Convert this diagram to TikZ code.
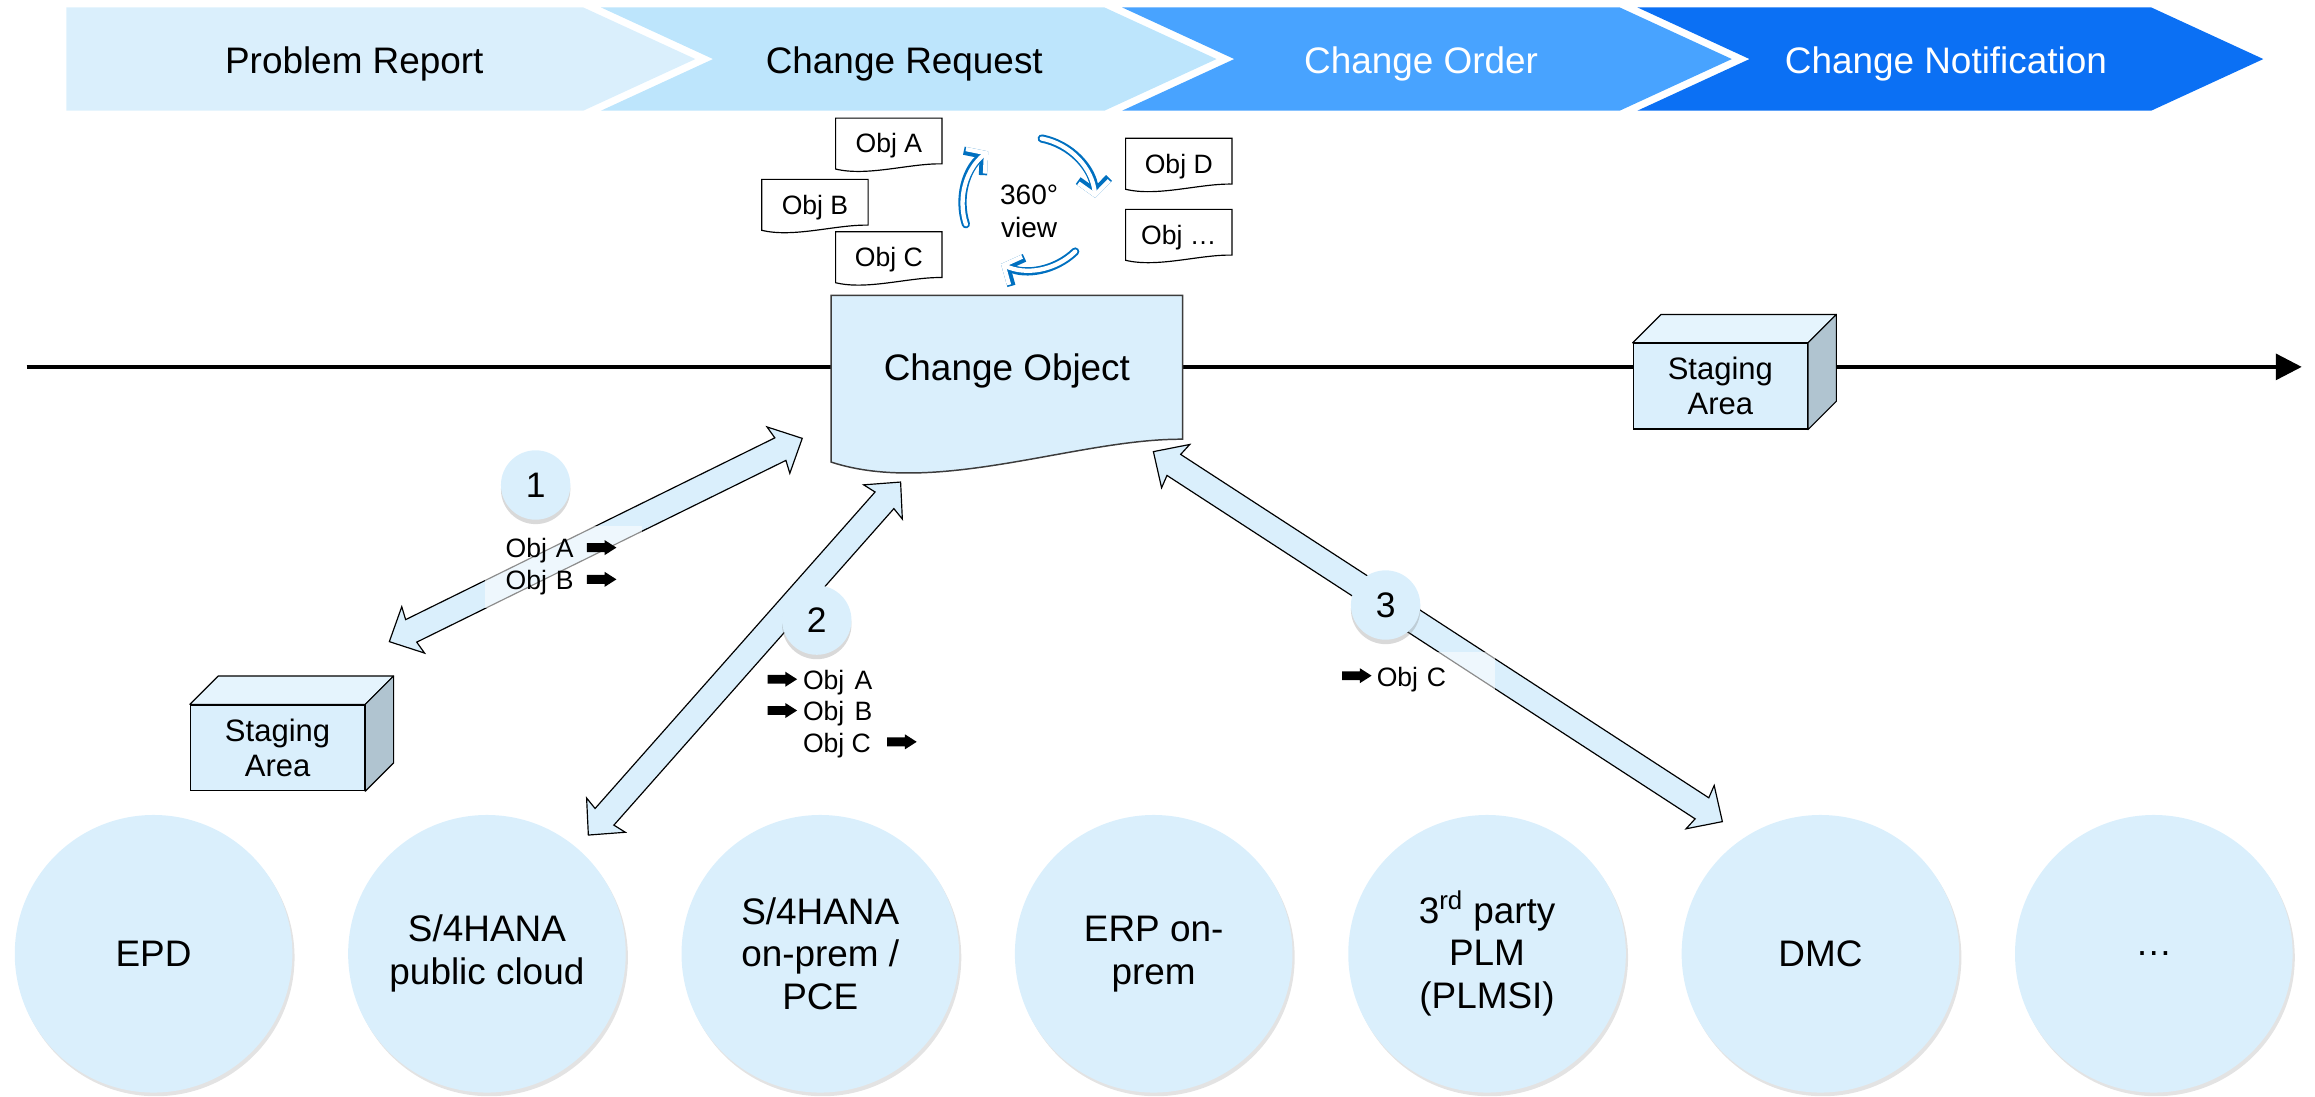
\documentclass[tikz,border=0pt]{standalone}
\usepackage{fontspec}
\setmainfont{Liberation Sans}
\usetikzlibrary{calc,arrows.meta,shadows}
\definecolor{lb}{RGB}{218,239,252}
\definecolor{cA}{RGB}{218,239,252}
\definecolor{cB}{RGB}{189,229,252}
\definecolor{cC}{RGB}{72,163,255}
\definecolor{cD}{RGB}{11,112,244}
\definecolor{vb}{RGB}{0,112,192}
\definecolor{side}{RGB}{176,196,208}
\definecolor{edge}{RGB}{60,60,60}

\newcommand{\barr}{\tikz[x=1pt,y=1pt,baseline=-7pt]\fill[black] (0,-3)--(12,-3)--(12,-5.1)--(20,0)--(12,5.1)--(12,3)--(0,3)--cycle;}

\newcommand{\docshape}[6]{\draw[#1] (#2,#3) -- ({#2+#4},#3) -- ({#2+#4},{#3+#5}) .. controls ({#2+0.7*#4},{#3+#5-0.5}) and ({#2+0.3*#4},{#3+#5+2.5*#6}) .. (#2,{#3+#5+#6}) -- cycle;}

\newcommand{\blockarrow}[2]{%
  \path let \p1=($(#2)-(#1)$), \n1={atan2(\y1,\x1)}, \n2={veclen(\x1,\y1)} in \pgfextra{\xdef\baang{\n1}\xdef\balen{\n2}};
  \begin{scope}[shift={(#1)}, rotate=\baang]
    \draw[blockarr] (0pt,0pt) -- (18pt,17.5pt) -- (16.5pt,8.5pt) -- ({\balen*1pt-16.5pt},8.5pt) -- ({\balen*1pt-18pt},17.5pt) -- ({\balen*1pt},0pt) -- ({\balen*1pt-18pt},-17.5pt) -- ({\balen*1pt-16.5pt},-8.5pt) -- (16.5pt,-8.5pt) -- (18pt,-17.5pt) -- cycle;
  \end{scope}}

\begin{document}
\begin{tikzpicture}[x=1pt,y=-1pt,
  htext/.style={font=\fontsize{25}{30}\selectfont, inner sep=0pt},
  sys/.style={circle, fill=lb, minimum size=188pt, inner sep=0pt, align=center, font=\fontsize{25}{29}\selectfont, drop shadow={shadow xshift=1.5pt, shadow yshift=-2.5pt, opacity=0.22}},
  numc/.style={circle, fill=lb, minimum size=47pt, inner sep=0pt, font=\fontsize{24}{24}\selectfont, drop shadow={shadow xshift=0pt, shadow yshift=-3pt, opacity=0.3}},
  objt/.style={font=\fontsize{18}{22}\selectfont, inner sep=0pt, anchor=base},
  docline/.style={draw=black, fill=white, line width=0.8pt},
  cobox/.style={draw=edge, fill=lb, line width=1pt},
  stage/.style={draw=black, fill=lb, line width=0.8pt, minimum width=118pt, minimum height=58pt, inner sep=0pt, align=center, font=\fontsize{21}{23.5}\selectfont},
  stagetop/.style={draw=black, fill=lb!70!white, line width=0.8pt, line join=round},
  stageside/.style={draw=black, fill=side, line width=0.8pt, line join=round},
  lbox/.style={fill=white, fill opacity=0.55, text opacity=1, align=left, inner ysep=0pt, font=\fontsize{18}{21.5}\selectfont},
  blockarr/.style={fill=lb, draw=black, line width=0.8pt, line join=miter},
  cyc/.style={vb, line width=5.6pt, line cap=round, -{Straight Barb[length=9pt,width=21pt]}},
  cycin/.style={white, line width=2.9pt, line cap=round, -{Straight Barb[length=9pt,width=21pt]}}
]
\useasboundingbox (0,0) rectangle (1568,743);

% header chevrons
\fill[cA] (45,5) -- (395,5) -- (471,40) -- (395,75) -- (45,75) -- cycle;
\fill[cB] (407,5) -- (748,5) -- (824,40) -- (748,75) -- (407,75) -- (483,40) -- cycle;
\fill[cC] (760,5) -- (1097,5) -- (1173,40) -- (1097,75) -- (760,75) -- (836,40) -- cycle;
\fill[cD] (1109,5) -- (1457,5) -- (1533,40) -- (1457,75) -- (1109,75) -- (1185,40) -- cycle;
\node[htext] (hPR) at (240,43) {Problem Report};
\node[htext] (hCR) at (612.5,43) {Change Request};
\node[htext, text=white] (hCO) at (962.5,43) {Change Order};
\node[htext, text=white] (hCN) at (1318,43) {Change Notification};

% timeline
\coordinate (tlS) at (18,248.5);
\coordinate (tlE) at (1559,248.5);
\draw[line width=2.3pt, -{Triangle[length=17.6pt,width=17.6pt]}] (tlS) -- (tlE);

% right staging area
\node[stage] (stR) at (1165.2,261.6) {Staging\\Area};
\draw[stagetop] (stR.north west) -- ($(stR.north west)+(19.2,-19.2)$) -- ($(stR.north east)+(19.2,-19.2)$) -- (stR.north east) -- cycle;
\draw[stageside] (stR.north east) -- ($(stR.north east)+(19.2,-19.2)$) -- ($(stR.south east)+(19.2,-19.2)$) -- (stR.south east) -- cycle;

% change object
\docshape{cobox}{563}{200}{238}{97.5}{15.5}
\node[htext] (co) at (682,251.5) {Change Object};

% object documents
\docshape{docline}{566}{80}{72}{31}{3.5}
\docshape{docline}{516}{121.5}{72}{31}{3.5}
\docshape{docline}{566}{157}{72}{31}{3.5}
\docshape{docline}{762.4}{93.7}{72}{31}{3.5}
\docshape{docline}{762.4}{141.8}{72}{31}{3.5}
\node[objt] (oA) at (602,103.5) {Obj A};
\node[objt] (oB) at (552,145) {Obj B};
\node[objt] (oC) at (602,180.5) {Obj C};
\node[objt] (oD) at (798.4,117.2) {Obj D};
\node[objt] (oE) at (798.4,165.3) {Obj …};

% 360 view
\coordinate (vc) at (697,138);
\draw[cyc] ([shift={(-198:45)}]vc) arc[start angle=-198, end angle=-128, radius=45];
\draw[cycin] ([shift={(-198:45)}]vc) arc[start angle=-198, end angle=-128, radius=45];
\draw[cyc] ([shift={(-79:45)}]vc) arc[start angle=-79, end angle=-5, radius=45];
\draw[cycin] ([shift={(-79:45)}]vc) arc[start angle=-79, end angle=-5, radius=45];
\draw[cyc] ([shift={(46:45)}]vc) arc[start angle=46, end angle=115, radius=45];
\draw[cycin] ([shift={(46:45)}]vc) arc[start angle=46, end angle=115, radius=45];
\node[font=\fontsize{19}{22.6}\selectfont, align=center, inner sep=0pt] (view) at (697,143.3) {360°\\view};

% block arrows
\coordinate (a1s) at (263.7,434.6);
\coordinate (a1e) at (543.4,296.9);
\coordinate (a2s) at (398.5,565.6);
\coordinate (a2e) at (610,326.5);
\coordinate (a3s) at (1166.6,556.5);
\coordinate (a3e) at (781.2,305.9);
\blockarrow{a1s}{a1e}
\blockarrow{a2s}{a2e}
\blockarrow{a3s}{a3e}

% labels
\node[lbox, text width=78pt, inner xsep=14pt, minimum height=56pt] (l1) at (381.5,384) {Obj A\hspace{9pt}\barr\\Obj B\hspace{9pt}\barr};
\node[anchor=west, align=left, inner sep=0pt, font=\fontsize{18}{21.2}\selectfont] (l2) at (519.7,483.6) {\barr\hspace{4pt}Obj\hspace{7pt}A\\\barr\hspace{4pt}Obj\hspace{7pt}B\\\hphantom{\barr\hspace{4pt}}Obj C\hspace{11pt}\barr};
\node[lbox, text width=89.6pt, inner xsep=14pt, minimum height=36.6pt] (l3) at (953.8,460) {\barr\hspace{3.5pt}Obj C};

% numbered circles
\node[numc] (n1) at (362.8,328.5) {1};
\node[numc] (n2) at (553.2,420) {2};
\node[numc] (n3) at (938.5,409.8) {3};

% left staging area
\node[stage] (stL) at (188,506.5) {Staging\\Area};
\draw[stagetop] (stL.north west) -- ($(stL.north west)+(19.2,-19.2)$) -- ($(stL.north east)+(19.2,-19.2)$) -- (stL.north east) -- cycle;
\draw[stageside] (stL.north east) -- ($(stL.north east)+(19.2,-19.2)$) -- ($(stL.south east)+(19.2,-19.2)$) -- (stL.south east) -- cycle;

% systems
\node[sys] (epd) at (104,646) {EPD};
\node[sys] (pub) at (329.8,646) {S/4HANA\\public cloud};
\node[sys] (onp) at (555.6,646) {S/4HANA\\on-prem /\\PCE};
\node[sys] (erp) at (781.4,646) {ERP on-\\prem};
\node[sys] (plm) at (1007.2,646) {3\textsuperscript{rd} party\\PLM\\(PLMSI)};
\node[sys] (dmc) at (1233,646) {DMC};
\node[sys] (more) at (1458.8,646) {…};
\end{tikzpicture}
\end{document}
